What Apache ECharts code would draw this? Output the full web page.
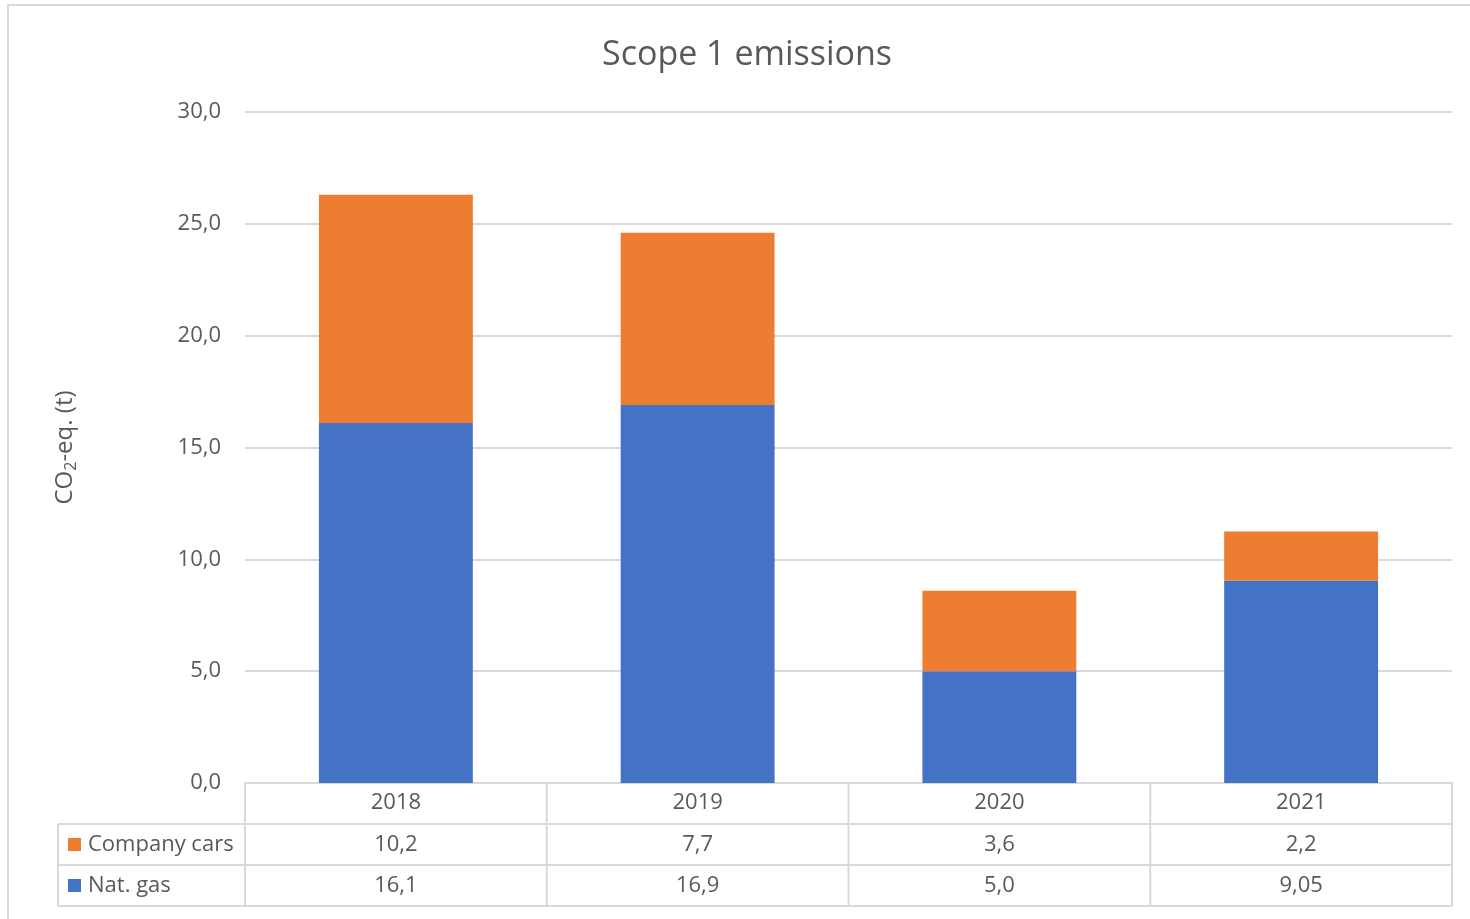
<!DOCTYPE html>
<html>
<head>
<meta charset="utf-8">
<script src="https://cdn.jsdelivr.net/npm/echarts@6/dist/echarts.min.js"></script>
<style>
  html, body { margin: 0; padding: 0; background: #fff; }
  #chart { width: 1470px; height: 919px; }
</style>
</head>
<body>
<div id="chart"></div>
<script>
// Scope 1 emissions per year, tonnes CO2-equivalent
const years = ['2018', '2019', '2020', '2021'];
const natGas = [16.1, 16.9, 5.0, 9.05];
const companyCars = [10.2, 7.7, 3.6, 2.2];
const yTicks = [0, 5, 10, 15, 20, 25, 30];

const FONT = '"Open Sans", "Noto Sans", sans-serif';
const TEXT = '#595959';
const LINE = '#d9d9d9';
const BLUE = '#4472C4';
const ORANGE = '#ED7D31';
const FS = 22;

// Comma decimals; keep two decimals only where the value needs them
function fmt(v) {
  const tenths = v * 10;
  const s = Math.abs(tenths - Math.round(tenths)) < 1e-9 ? v.toFixed(1) : v.toFixed(2);
  return s.replace('.', ',');
}

const chart = echarts.init(document.getElementById('chart'));

chart.setOption({
  animation: false,
  textStyle: { fontFamily: FONT },
  title: {
    text: 'Scope 1 emissions',
    left: 597,
    top: 33,
    textStyle: { fontFamily: FONT, fontSize: 34, fontWeight: 'normal', color: TEXT }
  },
  grid: { left: 245, right: 18, top: 112, bottom: 136, containLabel: false },
  xAxis: {
    type: 'category',
    data: years,
    axisTick: { show: false },
    axisLine: { lineStyle: { color: LINE, width: 2 } },
    axisLabel: { fontFamily: FONT, fontSize: FS, color: TEXT, margin: 9 }
  },
  yAxis: {
    type: 'value',
    min: yTicks[0],
    max: yTicks[yTicks.length - 1],
    interval: yTicks[1] - yTicks[0],
    name: 'CO{sub|2}-eq. (t)',
    nameLocation: 'middle',
    nameRotate: 90,
    nameGap: 166,
    nameTextStyle: {
      fontFamily: FONT, fontSize: 24, color: TEXT,
      rich: { sub: { fontFamily: FONT, fontSize: 16, color: TEXT, padding: [12, 0, 0, 0] } }
    },
    axisLabel: {
      fontFamily: FONT, fontSize: FS, color: TEXT, margin: 24,
      formatter: v => fmt(v)
    },
    splitLine: { lineStyle: { color: LINE, width: 2 } }
  },
  series: [
    {
      name: 'Nat. gas', type: 'bar', stack: 'total',
      data: natGas, barWidth: '51%',
      itemStyle: { color: BLUE }
    },
    {
      name: 'Company cars', type: 'bar', stack: 'total',
      data: companyCars, barWidth: '51%',
      itemStyle: { color: ORANGE }
    }
  ]
});

// Data table under the plot: header row holds the year labels,
// then one row per series with a colour key.
function buildTable() {
  const grid = chart.getModel().getComponent('grid').coordinateSystem.getRect();
  const x0 = grid.x, x1 = grid.x + grid.width, yAxis0 = grid.y + grid.height;
  const rowH = 41;
  const legendLeft = 58;
  const rows = [
    { name: 'Company cars', color: ORANGE, values: companyCars },
    { name: 'Nat. gas', color: BLUE, values: natGas }
  ];
  const lineStyle = { stroke: LINE, lineWidth: 2 };
  const els = [];

  // outer frame of the chart
  els.push({ type: 'rect', shape: { x: 8, y: 5, width: 1480, height: 940 },
             style: { fill: 'none', stroke: LINE, lineWidth: 2 }, silent: true });

  const yBottom = yAxis0 + rowH * (rows.length + 1);
  // horizontal rules
  for (let r = 1; r <= rows.length + 1; r++) {
    const y = yAxis0 + rowH * r;
    els.push({ type: 'line', shape: { x1: legendLeft, y1: y, x2: x1, y2: y }, style: lineStyle });
  }
  // vertical rules
  els.push({ type: 'line', shape: { x1: legendLeft, y1: yAxis0 + rowH, x2: legendLeft, y2: yBottom }, style: lineStyle });
  const step = grid.width / years.length;
  for (let i = 0; i <= years.length; i++) {
    const x = x0 + step * i;
    els.push({ type: 'line', shape: { x1: x, y1: yAxis0, x2: x, y2: yBottom }, style: lineStyle });
  }

  rows.forEach((row, r) => {
    const cy = yAxis0 + rowH * (r + 1) + rowH / 2;
    els.push({ type: 'rect', shape: { x: 68, y: cy - 6.5, width: 13, height: 13 }, style: { fill: row.color } });
    els.push({ type: 'text', x: 88, y: cy,
      style: { text: row.name, fontFamily: FONT, fontSize: FS, fill: TEXT, verticalAlign: 'middle', align: 'left' } });
    row.values.forEach((v, i) => {
      const cx = chart.convertToPixel({ xAxisIndex: 0 }, i);
      els.push({ type: 'text', x: cx, y: cy,
        style: { text: fmt(v), fontFamily: FONT, fontSize: FS, fill: TEXT, align: 'center', verticalAlign: 'middle' } });
    });
  });

  chart.setOption({ graphic: { elements: els } });
}
buildTable();
</script>
</body>
</html>
